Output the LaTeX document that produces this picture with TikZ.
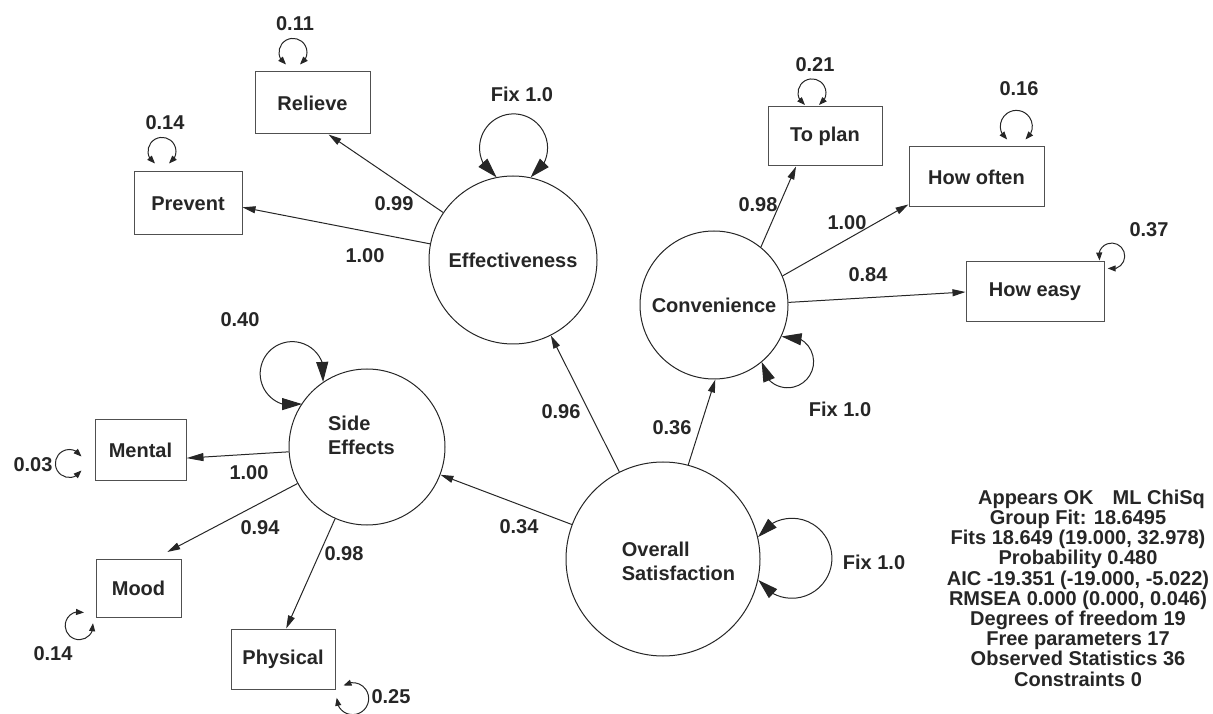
\documentclass[tikz,border=0pt]{standalone}
\usepackage{fontspec}
\setmainfont{Liberation Sans}
\usetikzlibrary{arrows.meta,bending}
\definecolor{ink}{HTML}{262626}
\definecolor{frame}{HTML}{505050}

\begin{document}
\begin{tikzpicture}[x=1pt, y=1pt, ink, line width=1pt,
    lbl/.style={inner sep=0pt, font=\bfseries\fontsize{20}{24}\selectfont},
    latent/.style={draw, circle, inner sep=0pt, lbl},
    manifest/.style={draw=frame, rectangle, line width=1pt, minimum height=60pt, lbl},
    loading/.style={-{Triangle[length=13pt,width=7pt]}},
    fixloop/.style={{Triangle[length=20pt,width=12pt,flex]}-{Triangle[length=20pt,width=12pt,flex]}},
    resloop/.style={{Triangle[length=8pt,width=6pt,flex]}-{Triangle[length=8pt,width=6pt,flex]}}]

    \useasboundingbox (0,0) rectangle (1213,713);

    % latent variables
    \node[latent, minimum size=168pt] (eff) at (513,453) {Effectiveness};
    \node[latent, minimum size=148pt] (conv) at (714,408) {Convenience};
    \node[latent, minimum size=156pt,
        label={[lbl, align=left, xshift=-5.5pt, yshift=12pt]center:{Side\\Effects}}] (side) at (367,266) {};
    \node[latent, minimum size=194pt,
        label={[lbl, align=left, xshift=15.5pt, yshift=-2pt]center:{Overall\\Satisfaction}}] (overall) at (663,154) {};

    % observed variables
    \node[manifest, minimum width=115pt, minimum height=62pt] (relieve) at (312.5,610) {Relieve};
    \node[manifest, minimum width=108pt, minimum height=63pt] (prevent) at (188,509.5) {Prevent};
    \node[manifest, minimum width=114pt, minimum height=59pt] (toplan) at (825,576.5) {To plan};
    \node[manifest, minimum width=135pt] (howoften) at (976.5,536) {How often};
    \node[manifest, minimum width=138pt] (howeasy) at (1035,421) {How easy};
    \node[manifest, minimum width=91pt] (mental) at (140.5,263) {Mental};
    \node[manifest, minimum width=85pt, minimum height=58pt] (mood) at (138.5,125) {Mood};
    \node[manifest, minimum width=104pt] (physical) at (283,54) {Physical};

    % loadings
    \draw[loading] (eff) -- (relieve.-63);
    \draw[loading] (eff) -- (prevent.-4);
    \draw[loading] (conv.51) -- (toplan.-134);
    \draw[loading] (conv.23) -- (howoften.-158);
    \draw[loading] (conv.2) -- (howeasy.west);
    \draw[loading, -{Triangle[length=17pt,width=8pt]}] (side) -- (mental.-10);
    \draw[loading, shorten >=14pt] (side) -- (mood.61);
    \draw[loading] (side) -- (physical.84);
    \draw[loading] (overall) -- (side);
    \draw[loading] (overall) -- (eff);
    \draw[loading] (overall.75) -- (conv.-89);

    % variances
    \draw[fixloop] (eff.78) arc[start angle=-60, end angle=240, radius=34];
    \draw[fixloop] (conv.-25) arc[start angle=103.5, end angle=-180, radius=26];
    \draw[fixloop] (overall.13) arc[start angle=148, end angle=-147, radius=40];
    \draw[fixloop] (side.124) arc[start angle=-15, end angle=288, radius=32];

    \draw[resloop] ([xshift=-12.5pt,yshift=7pt]relieve.north) arc[start angle=-60, end angle=240, radius=14];
    \draw[resloop] ([xshift=-19pt,yshift=8pt]prevent.north) arc[start angle=-60, end angle=240, radius=14];
    \draw[resloop] ([xshift=-6pt,yshift=1.5pt]toplan.north) arc[start angle=-60, end angle=240, radius=14];
    \draw[resloop] ([xshift=49pt,yshift=7pt]howoften.north) arc[start angle=-55, end angle=235, radius=16];
    \draw[resloop] ([xshift=-5pt,yshift=1pt]howeasy.north east) arc[start angle=200, end angle=-108, radius=13];
    \draw[resloop] ([xshift=-13pt,yshift=-6.5pt]mental.west) arc[start angle=30, end angle=330, radius=14];
    \draw[resloop] ([xshift=-11.5pt,yshift=5pt]mood.south west) arc[start angle=70, end angle=370, radius=14];
    \draw[resloop] ([xshift=8pt,yshift=4pt]physical.south east) arc[start angle=125, end angle=-183, radius=16];

    % estimates
    \node[lbl] (r-relieve) at (295,689) {0.11};
    \node[lbl] (r-prevent) at (165,590) {0.14};
    \node[lbl] (v-eff) at (522,619) {Fix 1.0};
    \node[lbl] (l-relieve) at (394,509) {0.99};
    \node[lbl] (l-prevent) at (365,457) {1.00};
    \node[lbl] (r-toplan) at (815,648) {0.21};
    \node[lbl] (r-howoften) at (1019,624) {0.16};
    \node[lbl] (r-howeasy) at (1149,483) {0.37};
    \node[lbl] (l-toplan) at (758,508) {0.98};
    \node[lbl] (l-howoften) at (847,490) {1.00};
    \node[lbl] (l-howeasy) at (868,438) {0.84};
    \node[lbl] (v-conv) at (840,304) {Fix 1.0};
    \node[lbl] (v-side) at (240,393) {0.40};
    \node[lbl] (r-mental) at (33,248) {0.03};
    \node[lbl] (l-mental) at (249,240) {1.00};
    \node[lbl] (l-mood) at (260,185) {0.94};
    \node[lbl] (r-mood) at (53,59) {0.14};
    \node[lbl] (l-physical) at (344,159) {0.98};
    \node[lbl] (r-physical) at (391,16) {0.25};
    \node[lbl] (l-side) at (519,186) {0.34};
    \node[lbl] (l-eff) at (561,301) {0.96};
    \node[lbl] (l-conv) at (672,285) {0.36};
    \node[lbl] (v-overall) at (874,151) {Fix 1.0};

    % fit summary
    \node[lbl, align=center, font=\bfseries\fontsize{20}{20.2}\selectfont] (fit) at (1078,125)
        {\hspace*{27pt}Appears OK\hspace{19pt}ML ChiSq\\
         Group Fit: 18.6495\\
         Fits 18.649 (19.000, 32.978)\\
         Probability 0.480\\
         AIC -19.351 (-19.000, -5.022)\\
         RMSEA 0.000 (0.000, 0.046)\\
         Degrees of freedom 19\\
         Free parameters 17\\
         Observed Statistics 36\\
         Constraints 0};

\end{tikzpicture}
\end{document}
